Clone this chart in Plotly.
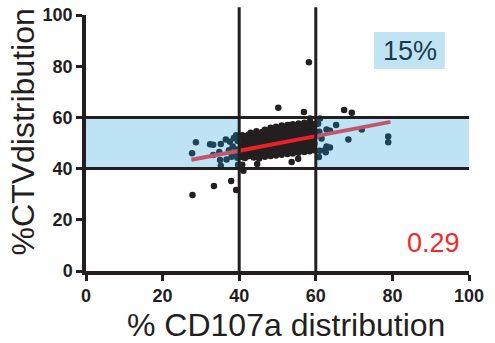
import plotly.graph_objects as go

# ---- data ----
cd107a = [
    # core cluster (40-60)
    40.8, 40.8, 40.8, 40.8, 40.8,
    41.5, 41.5, 41.5, 41.5, 41.5,
    42.3, 42.3, 42.3, 42.3, 42.3,
    43.0, 43.0, 43.0, 43.0, 43.0,
    43.8, 43.8, 43.8, 43.8, 43.8,
    44.5, 44.5, 44.5, 44.5, 44.5,
    45.2, 45.2, 45.2, 45.2, 45.2,
    46.0, 46.0, 46.0, 46.0, 46.0,
    46.7, 46.7, 46.7, 46.7, 46.7, 46.7,
    47.4, 47.4, 47.4, 47.4, 47.4,
    48.2, 48.2, 48.2, 48.2, 48.2, 48.2,
    48.9, 48.9, 48.9, 48.9, 48.9,
    49.6, 49.6, 49.6, 49.6, 49.6, 49.6,
    50.4, 50.4, 50.4, 50.4, 50.4,
    51.1, 51.1, 51.1, 51.1, 51.1, 51.1,
    51.8, 51.8, 51.8, 51.8, 51.8,
    52.6, 52.6, 52.6, 52.6, 52.6, 52.6,
    53.3, 53.3, 53.3, 53.3, 53.3,
    54.0, 54.0, 54.0, 54.0, 54.0, 54.0,
    54.8, 54.8, 54.8, 54.8, 54.8,
    55.5, 55.5, 55.5, 55.5, 55.5, 55.5,
    56.2, 56.2, 56.2, 56.2, 56.2,
    57.0, 57.0, 57.0, 57.0, 57.0, 57.0,
    57.7, 57.7, 57.7, 57.7, 57.7,
    58.4, 58.4, 58.4, 58.4, 58.4, 58.4,
    59.1, 59.1, 59.1, 59.1, 59.1,
    59.6, 59.6, 59.6, 59.6, 59.6,
    # around the core
    50.2, 56.9, 58.2, 53.1, 58.5, 44.7, 53.7, 55.4, 41.1, 40.8,
    # left side
    28.7, 27.7, 32.4, 33.2, 35.2, 36.5, 37.6, 38.3, 33.2, 35.0, 35.2,
    36.7, 38.0, 38.9, 39.3, 39.6, 39.2, 39.5, 38.6, 34.8, 37.3, 39.7,
    27.8, 33.4, 37.9, 39.2,
    # right side
    67.4, 69.4, 61.1, 65.3, 62.8, 63.7, 72.0, 68.5, 78.9, 78.9,
    62.8, 63.7, 62.4, 62.6, 61.5, 60.9, 60.6, 61.0, 60.8,
]
ctv = [
    44.5, 46.8, 49.0, 51.2, 53.0,
    45.6, 47.9, 50.3, 52.4, 44.1,
    46.2, 48.6, 51.0, 53.1, 44.8,
    45.0, 47.3, 49.5, 51.8, 54.0,
    44.3, 46.6, 48.9, 50.9, 53.4,
    45.5, 47.8, 50.1, 52.5, 54.6,
    43.9, 46.3, 48.7, 51.3, 53.6,
    45.2, 47.4, 49.8, 52.1, 54.3,
    44.6, 46.9, 49.2, 51.6, 53.9, 55.2,
    45.8, 48.1, 50.5, 52.8, 54.8,
    44.9, 47.2, 49.6, 52.0, 54.1, 56.0,
    46.0, 48.4, 50.7, 53.2, 55.3,
    45.1, 47.6, 49.9, 52.3, 54.7, 56.3,
    46.3, 48.8, 51.1, 53.5, 55.6,
    45.4, 47.9, 50.2, 52.6, 54.9, 56.8,
    46.6, 49.0, 51.4, 53.8, 55.9,
    45.7, 48.2, 50.6, 52.9, 55.2, 57.0,
    46.9, 49.3, 51.7, 54.1, 56.3,
    45.9, 48.5, 50.9, 53.2, 55.6, 57.3,
    47.1, 49.6, 52.0, 54.4, 56.6,
    46.2, 48.7, 51.2, 53.6, 55.9, 57.6,
    47.4, 49.9, 52.3, 54.7, 56.9,
    46.5, 49.0, 51.5, 53.9, 56.2, 57.9,
    47.7, 50.2, 52.6, 55.0, 57.2,
    46.8, 49.3, 51.8, 54.2, 56.5, 58.3,
    48.0, 50.5, 52.9, 55.3, 57.5,
    47.2, 49.8, 52.1, 54.6, 56.8,
    63.8, 62.1, 81.5, 57.0, 59.6, 41.8, 42.6, 43.8, 39.2, 41.5,
    50.3, 46.0, 49.5, 49.3, 49.6, 51.4, 50.5, 48.6, 45.3, 43.4, 41.1,
    43.6, 44.6, 46.0, 47.5, 50.8, 53.0, 44.2, 52.0, 46.5, 47.2, 41.5,
    29.7, 33.2, 35.2, 31.6,
    62.9, 61.8, 59.6, 57.0, 55.3, 54.8, 55.3, 51.4, 52.5, 50.3,
    48.6, 48.2, 47.3, 46.4, 51.8, 54.4, 57.5, 47.0, 44.5,
]
fit_slope = 0.285
fit_intercept = 35.6
fit_x_range = [27.5, 79.5]
gate_x = [40, 60]
gate_y = [40, 60]
tick_vals = [0, 20, 40, 60, 80, 100]
pct_label = "15%"
slope_label = "0.29"

BLACK = "#231f20"
TEAL = "#1e4356"
BAND = "#bee3f5"
FONT = "Liberation Sans, Arial, sans-serif"

# split points by band region
in_band_x, in_band_y, out_x, out_y = [], [], [], []
for x, y in zip(cd107a, ctv):
    if (x < gate_x[0] or x > gate_x[1]) and gate_y[0] <= y <= gate_y[1]:
        in_band_x.append(x); in_band_y.append(y)
    else:
        out_x.append(x); out_y.append(y)

fig = go.Figure()
fig.add_trace(go.Scatter(x=out_x, y=out_y, mode="markers",
                         marker=dict(color=BLACK, size=6.5), hoverinfo="skip"))
fig.add_trace(go.Scatter(x=in_band_x, y=in_band_y, mode="markers",
                         marker=dict(color=TEAL, size=6.5), hoverinfo="skip"))

def fy(x):
    return fit_intercept + fit_slope * x

segs = [([fit_x_range[0], gate_x[0]], "#c4566c"),
        ([gate_x[0], gate_x[1]], "#ec2027"),
        ([gate_x[1], fit_x_range[1]], "#c4566c")]
for xs, col in segs:
    fig.add_trace(go.Scatter(x=xs, y=[fy(v) for v in xs], mode="lines",
                             line=dict(color=col, width=4), hoverinfo="skip"))

shapes = [
    dict(type="rect", xref="x", yref="y", x0=0, x1=100, y0=gate_y[0], y1=gate_y[1],
         fillcolor=BAND, line=dict(width=0), layer="below"),
    dict(type="rect", xref="x", yref="y", x0=gate_x[0], x1=gate_x[1], y0=gate_y[0], y1=gate_y[1],
         fillcolor="white", line=dict(width=0), layer="below"),
    dict(type="rect", xref="x", yref="y", x0=75.2, x1=93.7, y0=78.9, y1=93.4,
         fillcolor="#c1e4f4", line=dict(width=0), layer="below"),
]
for gx in gate_x:
    shapes.append(dict(type="line", xref="x", yref="paper", x0=gx, x1=gx, y0=0, y1=1.03,
                       line=dict(color=BLACK, width=3)))
for gy in gate_y:
    shapes.append(dict(type="line", xref="x", yref="y", x0=0, x1=100, y0=gy, y1=gy,
                       line=dict(color=BLACK, width=3)))

tick_text = [f"<b>{v}</b>" for v in tick_vals]
axis_common = dict(range=[0, 100], tickvals=tick_vals, ticktext=tick_text,
                   showgrid=False, zeroline=False,
                   showline=True, linecolor=BLACK, linewidth=3.5,
                   ticks="outside", ticklen=6, tickwidth=3, tickcolor=BLACK,
                   automargin=False,
                   tickfont=dict(family=FONT, size=18, color=BLACK))

fig.update_layout(
    width=495, height=343,
    margin=dict(l=86, r=26, t=15, b=72),
    paper_bgcolor="white", plot_bgcolor="white",
    showlegend=False,
    xaxis=dict(**axis_common),
    yaxis=dict(**axis_common),
    shapes=shapes,
    annotations=[
        dict(text="% CD107a distribution", xref="paper", yref="paper", x=0.521, y=-0.21,
             xanchor="center", yanchor="middle", showarrow=False,
             font=dict(family=FONT, size=32, color=BLACK)),
        dict(text="%CTVdistribution", xref="paper", yref="paper", x=-0.162, y=0.545,
             xanchor="center", yanchor="middle", showarrow=False, textangle=-90,
             font=dict(family=FONT, size=32, color=BLACK)),
        dict(text=pct_label, xref="x", yref="y", x=84.5, y=86.1,
             xanchor="center", yanchor="middle", showarrow=False,
             font=dict(family=FONT, size=27, color="#1c3b4d")),
        dict(text=slope_label, xref="x", yref="y", x=90.6, y=10.9,
             xanchor="center", yanchor="middle", showarrow=False,
             font=dict(family=FONT, size=27, color="#ee2a2e")),
    ],
)

fig.write_html("out.html", config={"displayModeBar": False},
               post_script="document.body.style.margin='0';document.body.style.overflow='hidden';")
